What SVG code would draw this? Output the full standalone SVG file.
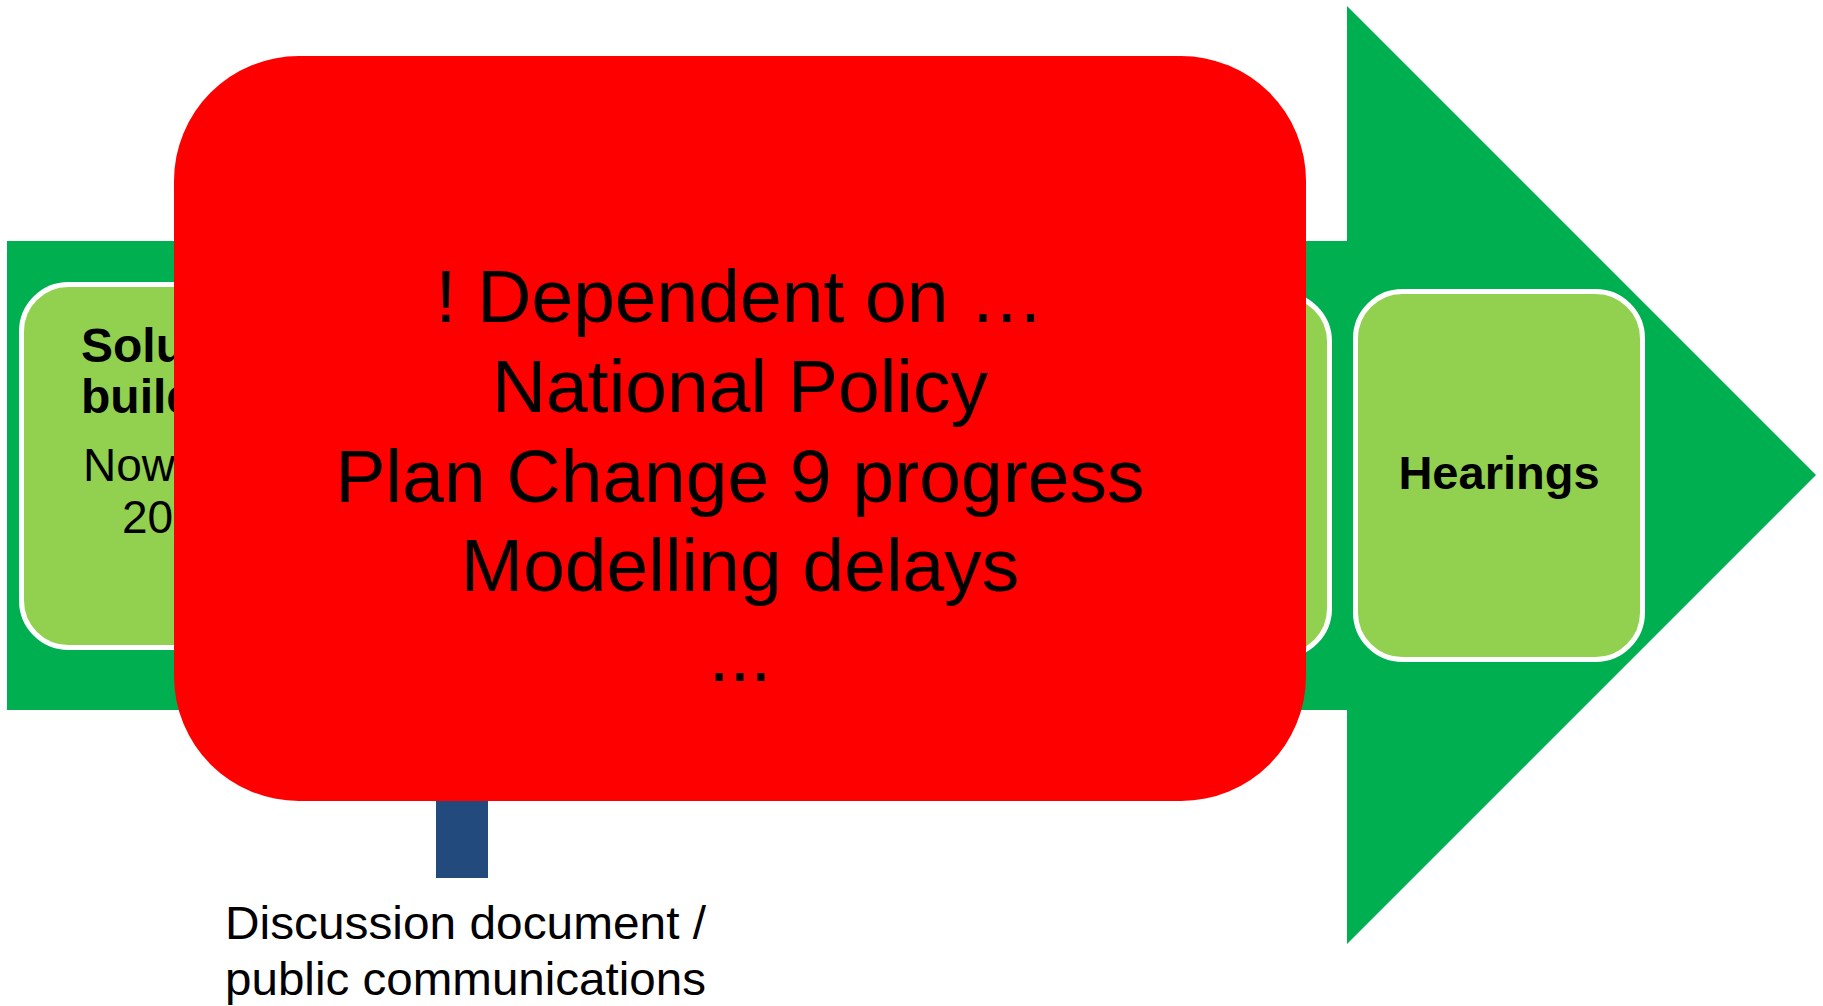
<svg xmlns="http://www.w3.org/2000/svg" width="1823" height="1006" viewBox="0 0 1823 1006">
  <style>
    text { font-family: "Liberation Sans", Arial, sans-serif; fill: #000000; }
    .step { fill: #92D050; stroke: #FFFFFF; stroke-width: 5; }
    .bold { font-weight: bold; }
    .big { font-size: 75px; text-anchor: middle; }
  </style>

  <!-- process arrow -->
  <g id="process-arrow">
    <polygon points="7,241 1347,241 1347,6 1816,475 1347,944 1347,710 7,710" fill="#00AF50"/>
  </g>

  <!-- first step -->
  <g id="step-solution">
    <rect class="step" x="21.5" y="284.5" width="287" height="363" rx="47"/>
    <text class="bold" x="81" y="362" font-size="48">Solu</text>
    <text class="bold" x="81" y="413" font-size="48">build</text>
    <text x="83" y="481" font-size="46">Now</text>
    <text x="122" y="533" font-size="46">20</text>
  </g>

  <!-- middle step -->
  <g id="step-middle">
    <rect class="step" x="1042.5" y="294.5" width="287" height="361" rx="47"/>
  </g>

  <!-- hearings step -->
  <g id="step-hearings">
    <rect class="step" x="1355.5" y="291.5" width="287" height="368" rx="47"/>
    <text class="bold" x="1499" y="489" font-size="47" text-anchor="middle">Hearings</text>
  </g>

  <!-- milestone marker -->
  <g id="connectors">
    <rect x="436" y="700" width="52" height="178" fill="#234A7D"/>
  </g>

  <!-- dependency warning -->
  <g id="dependency-warning">
    <rect x="174" y="56" width="1132" height="745" rx="125" fill="#FF0000"/>
    <text class="big" x="740" y="322">! Dependent on …</text>
    <text class="big" x="740" y="412">National Policy</text>
    <text class="big" x="740" y="502">Plan Change 9 progress</text>
    <text class="big" x="740" y="591">Modelling delays</text>
    <text class="big" x="740" y="681">...</text>
  </g>

  <!-- milestone label -->
  <g id="milestone-label">
    <text x="225" y="939" font-size="46" textLength="481" lengthAdjust="spacingAndGlyphs">Discussion document /</text>
    <text x="225" y="995" font-size="46" textLength="481" lengthAdjust="spacingAndGlyphs">public communications</text>
  </g>
</svg>
